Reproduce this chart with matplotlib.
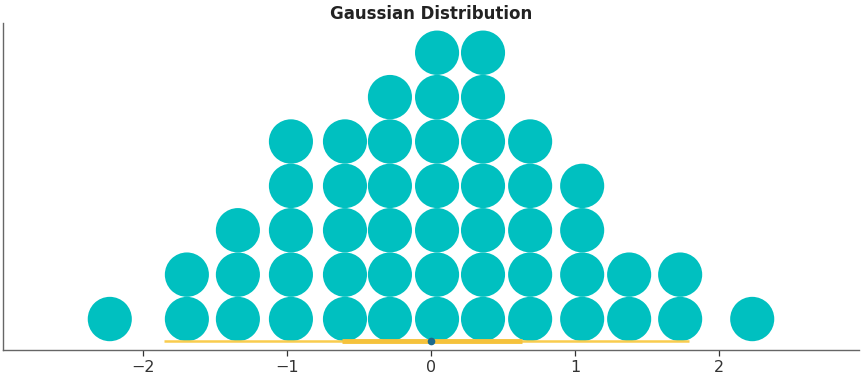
import numpy as np
import matplotlib.pyplot as plt
from matplotlib.patches import Ellipse

# dot columns: x position and number of stacked dots
col_x = [-2.229, -1.694, -1.340, -0.972, -0.597, -0.285, 0.042,
         0.361, 0.688, 1.049, 1.375, 1.729, 2.229]
col_n = [1, 2, 3, 5, 5, 6, 7, 7, 5, 4, 2, 2, 1]

point_est = 0.0
hdi_outer = (-1.854, 1.79)
hdi_inner = (-0.615, 0.63)

dot_w = 0.306

fig = plt.figure(figsize=(8.62, 3.75), dpi=100)
ax = fig.add_axes([3 / 862, 25 / 375, 856 / 862, 327 / 375])

for x, n in zip(col_x, col_n):
    for k in range(n):
        ax.add_patch(Ellipse((x, k + 0.5), dot_w, 1.0, color='#00c0c0', lw=0))

ax.plot(hdi_outer, [0, 0], color='#f9cc4e', lw=1.8, solid_capstyle='butt')
ax.plot(hdi_inner, [0, 0], color='#f5c23c', lw=3.5, solid_capstyle='butt')
ax.plot(point_est, 0, 'o', color='#1b6a8e', ms=5.5, mec='none')

ax.set_xlim(-2.97, 2.97)
ax.set_ylim(-0.198, 7.17)
ax.set_xticks([-2, -1, 0, 1, 2])
ax.set_yticks([])
ax.tick_params(axis='x', labelsize=11.5, colors='#333333', length=4, width=0.9)
for side in ['top', 'right']:
    ax.spines[side].set_visible(False)
for side in ['left', 'bottom']:
    ax.spines[side].set_color('#666666')
    ax.spines[side].set_linewidth(1.0)
ax.set_title('Gaussian Distribution', fontsize=12, fontweight='bold', color='#222222', pad=2)

fig.savefig('out.png', dpi=100)
